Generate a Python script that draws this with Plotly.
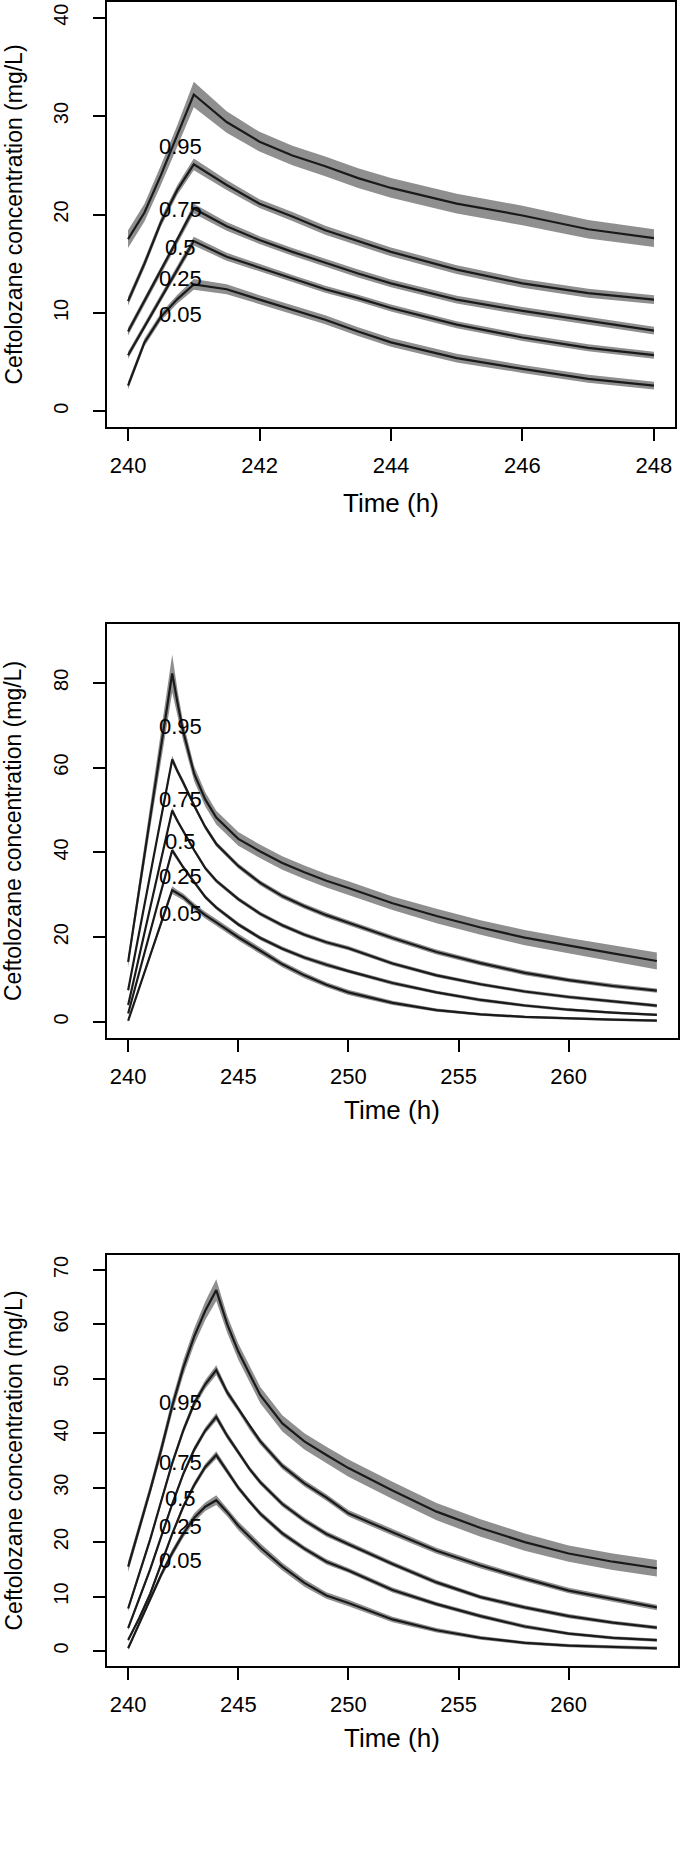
import plotly.graph_objects as go

# ---------------- data ----------------
quantiles = ["0.95", "0.75", "0.5", "0.25", "0.05"]

# Panel 1 (x 240-248)
p1_time = [240, 240.25, 240.5, 240.75, 241, 241.5, 242, 242.5, 243, 243.5, 244, 245, 246, 247, 248]
p1_q95 = [17.5, 20.2, 24.0, 28.0, 32.2, 29.4, 27.4, 26.0, 24.9, 23.7, 22.7, 21.1, 19.9, 18.5, 17.6]
p1_q75 = [11.2, 15.0, 19.2, 22.5, 25.1, 23.0, 21.1, 19.8, 18.4, 17.3, 16.2, 14.4, 13.0, 12.0, 11.35]
p1_q50 = [8.1, 11.2, 14.3, 17.4, 20.6, 18.8, 17.4, 16.2, 15.1, 14.0, 13.0, 11.35, 10.2, 9.2, 8.2]
p1_q25 = [5.7, 8.6, 11.5, 14.4, 17.3, 15.7, 14.6, 13.5, 12.4, 11.5, 10.5, 8.8, 7.5, 6.45, 5.7]
p1_q05 = [2.6, 7.0, 9.6, 11.4, 12.9, 12.4, 11.35, 10.3, 9.3, 8.1, 7.0, 5.4, 4.3, 3.3, 2.6]
p1_hw95 = [0.9, 0.9, 1.0, 1.1, 1.3, 1.1, 1.0, 1.0, 1.0, 1.0, 1.0, 1.0, 1.0, 0.95, 0.9]
p1_hw75 = [0.45, 0.45, 0.45, 0.5, 0.6, 0.5, 0.45, 0.45, 0.45, 0.45, 0.45, 0.45, 0.45, 0.45, 0.45]
p1_hw50 = [0.4, 0.4, 0.4, 0.4, 0.5, 0.45, 0.4, 0.4, 0.4, 0.4, 0.4, 0.4, 0.4, 0.4, 0.4]
p1_hw25 = [0.35, 0.35, 0.35, 0.35, 0.45, 0.4, 0.35, 0.35, 0.35, 0.35, 0.35, 0.35, 0.35, 0.35, 0.35]
p1_hw05 = [0.4, 0.4, 0.4, 0.45, 0.55, 0.5, 0.45, 0.45, 0.45, 0.45, 0.45, 0.45, 0.4, 0.4, 0.4]
p1_label_x = [240.8, 240.8, 240.8, 240.8, 240.8]
p1_label_y = [26.9, 20.5, 16.6, 13.5, 9.8]

# Panel 2 (x 240-264)
p2_time = [240, 241, 242, 242.25, 242.5, 243, 243.5, 244, 245, 246, 247, 248, 249, 250,
           252, 254, 256, 258, 260, 262, 264]
p2_q95 = [14.2, 48.2, 82.2, 75.0, 68.5, 58.5, 52.5, 48.2, 43.2, 40.2, 37.5, 35.3, 33.3, 31.6,
          28.0, 25.0, 22.3, 19.9, 18.0, 16.2, 14.4]
p2_q75 = [7.5, 34.7, 61.9, 59.0, 56.5, 51.0, 46.0, 42.0, 36.8, 32.8, 29.7, 27.3, 25.2, 23.4,
          19.8, 16.5, 13.9, 11.6, 9.9, 8.5, 7.4]
p2_q50 = [4.0, 27.0, 49.9, 47.3, 45.0, 40.5, 36.3, 33.3, 29.0, 25.5, 22.8, 20.6, 18.8, 17.4,
          13.8, 11.0, 8.9, 7.2, 5.9, 4.8, 3.85]
p2_q25 = [2.0, 21.2, 40.5, 38.5, 36.5, 33.0, 29.5, 27.0, 23.0, 19.8, 17.3, 15.2, 13.5, 12.0,
          9.2, 7.0, 5.2, 3.9, 2.9, 2.2, 1.7]
p2_q05 = [0.3, 15.7, 31.1, 30.3, 29.5, 27.2, 25.2, 23.5, 20.0, 16.8, 13.6, 11.0, 8.8, 7.0,
          4.5, 2.8, 1.8, 1.2, 0.8, 0.55, 0.35]
p2_hw95 = [1.2, 2.5, 4.5, 3.0, 2.2, 1.8, 1.7, 1.6, 1.6, 1.6, 1.6, 1.6, 1.6, 1.6,
           1.6, 1.7, 1.7, 1.8, 1.8, 1.9, 2.0]
p2_hw75 = [0.5, 0.7, 0.9, 0.8, 0.7, 0.6, 0.6, 0.6, 0.6, 0.6, 0.6, 0.6, 0.6, 0.6,
           0.6, 0.6, 0.55, 0.55, 0.5, 0.5, 0.5]
p2_hw50 = [0.4, 0.5, 0.7, 0.6, 0.5, 0.5, 0.5, 0.5, 0.5, 0.5, 0.5, 0.5, 0.5, 0.5,
           0.45, 0.45, 0.4, 0.4, 0.4, 0.4, 0.4]
p2_hw25 = [0.3, 0.5, 0.7, 0.6, 0.5, 0.5, 0.5, 0.5, 0.5, 0.5, 0.5, 0.5, 0.5, 0.45,
           0.45, 0.4, 0.4, 0.35, 0.35, 0.3, 0.3]
p2_hw05 = [0.3, 0.6, 0.9, 0.8, 0.8, 0.8, 0.8, 0.8, 0.8, 0.8, 0.7, 0.7, 0.6, 0.6,
           0.5, 0.4, 0.35, 0.3, 0.3, 0.3, 0.3]
p2_label_x = [242.38, 242.38, 242.38, 242.38, 242.38]
p2_label_y = [69.6, 52.4, 42.5, 34.3, 25.6]

# Panel 3 (x 240-264)
p3_time = [240, 240.5, 241, 241.5, 242, 242.5, 243, 243.5, 244, 244.5, 245, 245.5, 246,
           247, 248, 249, 250, 252, 254, 256, 258, 260, 262, 264]
p3_q95 = [15.5, 22.5, 29.5, 37.0, 45.0, 52.0, 57.8, 62.5, 66.3, 60.0, 55.0, 51.0, 47.0,
          41.8, 38.5, 36.0, 33.6, 29.5, 25.6, 22.6, 20.0, 17.9, 16.4, 15.2]
p3_q75 = [7.8, 14.0, 20.5, 27.5, 34.5, 40.5, 45.5, 49.0, 51.6, 47.5, 44.5, 41.3, 38.5,
          34.0, 30.8, 28.2, 25.3, 21.8, 18.4, 15.7, 13.3, 11.1, 9.6, 8.0]
p3_q50 = [4.2, 9.5, 15.0, 21.0, 27.0, 32.5, 37.0, 40.5, 43.0, 39.5, 36.5, 33.5, 31.0,
          27.0, 24.0, 21.5, 19.6, 16.0, 12.6, 9.9, 8.0, 6.4, 5.2, 4.3]
p3_q25 = [2.0, 6.0, 10.5, 16.0, 21.5, 26.5, 30.5, 33.8, 36.0, 33.0, 30.0, 27.5, 25.2,
          21.6, 18.8, 16.4, 14.8, 11.2, 8.6, 6.4, 4.5, 3.2, 2.4, 2.0]
p3_q05 = [0.5, 5.0, 9.5, 14.0, 18.0, 21.5, 24.5, 26.5, 27.7, 25.5, 23.0, 21.0, 19.0,
          15.5, 12.5, 10.2, 8.8, 5.8, 3.8, 2.4, 1.5, 1.0, 0.7, 0.5]
p3_hw95 = [1.0, 1.0, 1.1, 1.2, 1.3, 1.4, 1.5, 1.7, 2.0, 1.6, 1.5, 1.5, 1.5,
           1.5, 1.5, 1.5, 1.6, 1.6, 1.6, 1.6, 1.6, 1.5, 1.5, 1.5]
p3_hw75 = [0.5, 0.5, 0.6, 0.6, 0.6, 0.7, 0.7, 0.8, 0.9, 0.7, 0.6, 0.6, 0.6,
           0.6, 0.6, 0.6, 0.6, 0.6, 0.55, 0.55, 0.5, 0.5, 0.5, 0.5]
p3_hw50 = [0.4, 0.4, 0.5, 0.5, 0.5, 0.5, 0.6, 0.6, 0.7, 0.6, 0.5, 0.5, 0.5,
           0.5, 0.5, 0.5, 0.5, 0.45, 0.45, 0.4, 0.4, 0.4, 0.35, 0.35]
p3_hw25 = [0.3, 0.4, 0.5, 0.5, 0.5, 0.5, 0.6, 0.6, 0.7, 0.6, 0.5, 0.5, 0.5,
           0.5, 0.5, 0.5, 0.45, 0.45, 0.4, 0.4, 0.35, 0.3, 0.3, 0.3]
p3_hw05 = [0.3, 0.5, 0.6, 0.6, 0.7, 0.7, 0.8, 0.8, 0.9, 0.8, 0.8, 0.8, 0.8,
           0.7, 0.7, 0.6, 0.6, 0.5, 0.4, 0.35, 0.3, 0.3, 0.3, 0.3]
p3_label_x = [242.38, 242.38, 242.38, 242.38, 242.38]
p3_label_y = [45.7, 34.7, 28.05, 22.8, 16.7]

p1_xticks = [240, 242, 244, 246, 248]
p1_yticks = [0, 10, 20, 30, 40]
p2_xticks = [240, 245, 250, 255, 260]
p2_yticks = [0, 20, 40, 60, 80]
p3_xticks = [240, 245, 250, 255, 260]
p3_yticks = [0, 10, 20, 30, 40, 50, 60, 70]

x_title = "Time (h)"
y_title = "Ceftolozane concentration (mg/L)"

# ---------------- figure ----------------
W, H = 680, 1852
FONT = "Liberation Sans, Arial, Helvetica, sans-serif"
BAND = "#8f8f8f"
LINE = "#1a1a1a"

panels = [
    dict(time=p1_time, q=[p1_q95, p1_q75, p1_q50, p1_q25, p1_q05],
         hw=[p1_hw95, p1_hw75, p1_hw50, p1_hw25, p1_hw05],
         lx=p1_label_x, ly=p1_label_y, xt=p1_xticks, yt=p1_yticks,
         xr=[239.68, 248.32], yr=[-1.6, 41.6], px=(107, 675), py=(2, 427), xtitle_y=503),
    dict(time=p2_time, q=[p2_q95, p2_q75, p2_q50, p2_q25, p2_q05],
         hw=[p2_hw95, p2_hw75, p2_hw50, p2_hw25, p2_hw05],
         lx=p2_label_x, ly=p2_label_y, xt=p2_xticks, yt=p2_yticks,
         xr=[239.04, 264.96], yr=[-3.7, 93.8], px=(107, 678), py=(624.3, 1037.7), xtitle_y=1110),
    dict(time=p3_time, q=[p3_q95, p3_q75, p3_q50, p3_q25, p3_q05],
         hw=[p3_hw95, p3_hw75, p3_hw50, p3_hw25, p3_hw05],
         lx=p3_label_x, ly=p3_label_y, xt=p3_xticks, yt=p3_yticks,
         xr=[239.04, 264.96], yr=[-2.76, 72.75], px=(107, 678), py=(1255, 1666), xtitle_y=1738),
]

fig = go.Figure()
layout = dict(width=W, height=H, margin=dict(l=0, r=0, t=0, b=0),
              paper_bgcolor="white", plot_bgcolor="white", showlegend=False,
              font=dict(family=FONT, color="black"))
annotations = []

for i, p in enumerate(panels, start=1):
    xa = "x" if i == 1 else f"x{i}"
    ya = "y" if i == 1 else f"y{i}"
    t = p["time"]
    for q, hw in zip(p["q"], p["hw"]):
        upper = [v + h for v, h in zip(q, hw)]
        lower = [v - h for v, h in zip(q, hw)]
        fig.add_trace(go.Scatter(x=t + t[::-1], y=upper + lower[::-1], fill="toself",
                                 fillcolor=BAND, line=dict(width=0), mode="lines",
                                 hoverinfo="skip", xaxis=xa, yaxis=ya))
    for q in p["q"]:
        fig.add_trace(go.Scatter(x=t, y=q, mode="lines", line=dict(color=LINE, width=2.2),
                                 xaxis=xa, yaxis=ya))
    for name, lxv, lyv in zip(quantiles, p["lx"], p["ly"]):
        annotations.append(dict(x=lxv, y=lyv, xref=xa, yref=ya, text=name, showarrow=False,
                                font=dict(size=22, family=FONT, color="black"),
                                xanchor="center", yanchor="middle"))
    x0, x1 = p["px"]
    y0, y1 = p["py"]
    xdom = [x0 / W, x1 / W]
    ydom = [1 - y1 / H, 1 - y0 / H]
    common = dict(showline=True, mirror=True, linecolor="black", linewidth=2,
                  ticks="outside", ticklen=12, tickwidth=2, tickcolor="black",
                  showgrid=False, zeroline=False)
    layout["xaxis" if i == 1 else f"xaxis{i}"] = dict(
        domain=xdom, range=p["xr"], tickvals=p["xt"], anchor=ya,
        tickfont=dict(size=22, family=FONT), ticklabelstandoff=6, **common)
    layout["yaxis" if i == 1 else f"yaxis{i}"] = dict(
        domain=ydom, range=p["yr"], tickvals=p["yt"], anchor=xa, tickangle=-90,
        tickfont=dict(size=20, family=FONT), ticklabelstandoff=17, **common)
    # axis titles
    annotations.append(dict(x=(x0 + x1) / 2 / W, y=1 - p["xtitle_y"] / H, xref="paper", yref="paper",
                            text=x_title, showarrow=False, font=dict(size=26, family=FONT),
                            xanchor="center", yanchor="middle"))
    annotations.append(dict(x=13 / W, y=1 - (y0 + y1) / 2 / H, xref="paper", yref="paper",
                            text=y_title, showarrow=False, textangle=-90,
                            font=dict(size=23, family=FONT), xanchor="center", yanchor="middle"))

layout["annotations"] = annotations
fig.update_layout(**layout)
fig.write_html("out.html", config={"displayModeBar": False, "staticPlot": True},
               post_script="document.body.style.margin='0';document.body.style.overflow='hidden';")
